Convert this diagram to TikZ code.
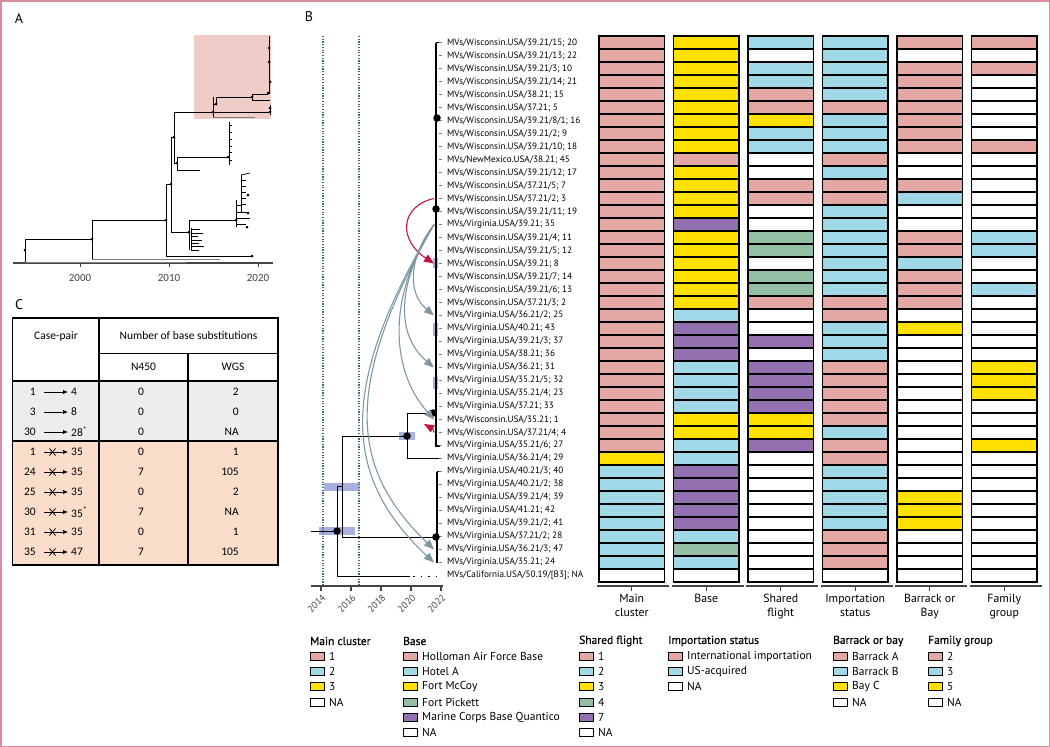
\documentclass[tikz,border=0pt]{standalone}
\usepackage{fontspec}
\setmainfont{PT Sans}
\newfontfamily\calfont{Carlito}
\newfontfamily\headfont[FakeBold=0.5]{PT Sans}
\usetikzlibrary{arrows.meta,calc}
\definecolor{cp}{HTML}{E3A8A3}
\definecolor{cb}{HTML}{A0D8E8}
\definecolor{cy}{HTML}{FFE000}
\definecolor{cg}{HTML}{94BFA5}
\definecolor{cv}{HTML}{9370B0}
\definecolor{cw}{HTML}{FFFFFF}
\definecolor{framec}{HTML}{D98CA0}
\definecolor{hpd}{HTML}{6F7CCB}
\definecolor{arrgrey}{HTML}{7F97A2}
\definecolor{arrred}{HTML}{C0143C}
\definecolor{dotc}{HTML}{3D6B78}
\definecolor{peach}{HTML}{FBDDCB}
\definecolor{lgrey}{HTML}{ECEEED}
\definecolor{hilite}{HTML}{F0CCC8}
\definecolor{axc}{HTML}{444444}
\begin{document}
\begin{tikzpicture}[x=1pt,y=-1pt,
  letter/.style={font=\fontsize{14}{14}\selectfont, inner sep=0},
  tl/.style={line width=0.9pt, black},
  atl/.style={line width=0.7pt, black},
  tipdash/.style={line width=0.6pt, gray},
  tiplab/.style={anchor=west, inner sep=0, font=\fontsize{9.2}{9.5}\selectfont},
  cell/.style={draw=black, line width=1.1pt, minimum width=65.5pt, minimum height=13pt, inner sep=0},
  hpdbar/.style={fill=hpd, fill opacity=0.6},
  gdot/.style={circle, fill=black, inner sep=0, minimum size=#1},
  gdot/.default=7.5pt,
  adot/.style={circle, fill=black, inner sep=0, minimum size=3pt},
  grey arrow/.style={draw=arrgrey, line width=1.1pt, -{Triangle[length=10pt,width=8pt]}},
  red arrow/.style={draw=arrred, line width=1.1pt, -{Triangle[length=10pt,width=8pt]}},
  yearlab/.style={font=\fontsize{9.5}{9.5}\selectfont, text=axc, inner sep=0},
  collab/.style={font=\fontsize{11.8}{13.5}\selectfont, align=center, anchor=north, inner sep=0},
  lghead/.style={font=\headfont\fontsize{11.5}{12}\selectfont, anchor=west, inner sep=0},
  lgtxt/.style={font=\fontsize{11.5}{12}\selectfont, anchor=west, inner sep=0},
  swatch/.style={draw=black, line width=0.9pt, minimum width=14pt, minimum height=8pt, inner sep=0},
  tabtxt/.style={font=\calfont\fontsize{11.5}{12}\selectfont, inner sep=0},
  tabarrow/.style={line width=0.8pt, -{Latex[length=5pt,width=4.5pt]}},
]
\useasboundingbox (0,0) rectangle (1050,747);
\fill[white] (0,0) rectangle (1050,747);
\draw[framec, line width=1.5pt] (0.75,0.75) rectangle (1049.25,746.25);

%% ================= Panel A =================
\node[letter] (labA) at (19,19) {A};
\fill[hilite] (194,35) rectangle (271,119);
\draw[axc, line width=1.1pt] (13,263) -- (273,263);
\foreach \yr/\xx in {2000/80,2010/169,2020/258}{
  \draw[axc, line width=1pt] (\xx,263) -- (\xx,267);
  \node[font=\calfont\fontsize{11}{11}\selectfont, text=axc, inner sep=0] (ay\yr) at (\xx,278) {\yr};
}
\begin{scope}[atl]
\draw (25,239) -- (25,262);
\draw (25,239) -- (92,239);
\draw[gray] (25,262) -- (187,262);
\draw (92,220) -- (92,259);
\draw[gray] (92,259) -- (220,259);
\draw (92,220) -- (166,220);
\draw (166,184) -- (166,256);
\draw (166,256) -- (252,256);
\draw (166,184) -- (171,184);
\draw (171,137) -- (171,232);
\draw (171,232) -- (189,232);
\draw (189,220) -- (189,250);
\draw (189,220) -- (236,220);
\foreach \yy/\xx in {229/200,233/203,236/198,240/202,243/199,246/204,250/199}{\draw (191,\yy) -- (\xx,\yy);}
\draw (191,228) -- (191,251);
\draw (236,200) -- (236,227);
\draw (236,205) -- (242,205);
\draw (236,212) -- (248,212);
\draw (236,218) -- (250,218);
\draw (236,224) -- (246,224);
\draw (241,175) -- (241,212);
\draw (241,175) -- (250,173);
\foreach \yy in {180,186,192,198,204}{\draw (241,\yy) -- (246,\yy);}
\draw (171,137) -- (174,137);
\draw (174,112) -- (174,163);
\draw (174,163) -- (177,163);
\draw (177,157) -- (177,170);
\draw (177,170) -- (200,170);
\draw (177,157) -- (228,157);
\draw (229,122) -- (229,165);
\foreach \yy in {125,132,139,146,152,160}{\draw (229,\yy) -- (232,\yy);}
\draw (174,112) -- (213,112);
\draw (213,97) -- (213,117);
\draw[gray] (213,117) -- (255,117);
\draw (213,112) -- (270,112);
\draw (213,104) -- (216,104);
\draw (216,97) -- (216,104);
\draw (216,97) -- (252,97);
\draw (252,94) -- (252,100);
\draw (252,94) -- (268,94);
\draw (252,100) -- (270,100);
\draw (269,36) -- (269,94);
\draw (270,105) -- (270,115);
\end{scope}
\foreach \p [count=\n] in {(25,250),(92,239),(166,220),(171,184),(252,256),(174,137),(177,163),(228,157),(213,112),(216,104),(252,97),(269,48),(269,62),(270,82),(268,93),(270,108),(270,112),(189,232),(236,220),(248,195),(248,213),(247,227)}{
  \node[adot] (ad\n) at \p {};
}

%% ================= Panel C =================
\node[letter] (labC) at (19,305) {C};
\fill[white] (12.7,318) rectangle (278,381);
\fill[lgrey] (12.7,381) rectangle (278,441);
\fill[peach] (12.7,441) rectangle (278,565);
\draw[line width=1.2pt] (12.7,318) rectangle (278,565);
\draw[line width=1.2pt] (99,318) -- (99,565);
\draw[line width=0.9pt] (99,353) -- (278,353);
\draw[line width=1.2pt] (188,353) -- (188,565);
\draw[line width=1.6pt] (12.7,381) -- (278,381);
\draw[line width=1.6pt] (12.7,441) -- (278,441);
\node[tabtxt] (hcase) at (56,336) {Case-pair};
\node[tabtxt] (hnum) at (188.5,336) {Number of base substitutions};
\node[tabtxt] (hn450) at (143.5,367) {N450};
\node[tabtxt] (hwgs) at (233,367) {WGS};
\foreach \a/\b/\nv/\wv/\cr [count=\i] in {1/4/0/2/0, 3/8/0/0/0, 30/28\textsuperscript{*}/0/NA/0, 1/35/0/1/1, 24/35/7/105/1, 25/35/0/2/1, 30/35\textsuperscript{*}/7/NA/1, 31/35/0/1/1, 35/47/7/105/1}{
  \pgfmathsetmacro{\ry}{372+20*\i}
  \node[tabtxt, anchor=east] (ca\i) at (36,\ry) {\a};
  \node[tabtxt, anchor=west] (cb\i) at (71,\ry) {\b};
  \draw[tabarrow] ([xshift=8pt]ca\i.east) -- ([xshift=-3pt]cb\i.west);
  \ifnum\cr=1
    \draw[line width=0.8pt] (49.5,\ry-3.5) -- (55.5,\ry+3.5);
    \draw[line width=0.8pt] (49.5,\ry+3.5) -- (55.5,\ry-3.5);
  \fi
  \node[tabtxt] (cn\i) at (141,\ry) {\nv};
  \node[tabtxt, anchor=east] (cw\i) at (239,\ry) {\wv};
}

%% ================= Panel B: tree =================
\node[letter] (labB) at (309,17) {B};
\foreach \xx in {323,359}{\draw[dotc, line width=1.1pt, dash pattern=on 1.2pt off 1.5pt] (\xx,36) -- (\xx,586);}
\draw[axc, line width=1.2pt] (311,586) -- (443,586);
\foreach \yr/\xx in {2014/321,2016/351,2018/381,2020/411,2022/441}{
  \draw[axc, line width=1.1pt] (\xx,586) -- (\xx,591);
  \node[yearlab, rotate=45, anchor=east] (ty\yr) at (\xx+3,596) {\yr};
}
% HPD bars
\fill[hpdbar] (319,527) rectangle (355,535);
\fill[hpdbar] (324,483) rectangle (360,491);
\fill[hpdbar] (399,432) rectangle (415,440);
\fill[hpdbar] (433,323) rectangle (437.5,336);
\fill[hpdbar] (433,377) rectangle (437.5,389);
\fill[hpdbar] (433,258) rectangle (437.5,268);
% branches
\draw[tl] (311,531) -- (337,531);
\draw[tl] (337,486) -- (337,576);
\draw[tl] (337,486) -- (342,486);
\draw[tl] (342,436) -- (342,537);
\draw[tl] (342,436) -- (407,436);
\draw[tl] (342,537) -- (436,537);
\draw[tl] (337,576) -- (410,576);
\draw[black, line width=0.9pt, dash pattern=on 1.5pt off 6pt] (413,576) -- (440,576);
\draw[tl] (407,413) -- (407,458.5);
\draw[tl] (407,413) -- (433,413);
\draw[tl] (407,458.5) -- (440,458.5);
\draw[black, line width=1.3pt] (436,42.5) -- (436,212);
\draw[black, line width=2pt] (435.5,212) -- (435.5,445.5) -- (440,445.5);
\draw[black, line width=1.3pt] (437,471.5) -- (437,562.5);
\draw[black, line width=1pt] (437,471.5) -- (441,471.5);
\draw[black, line width=1pt] (436,42.5) -- (440,42.5);
\foreach \i in {1,...,41}{
  \coordinate (tp\i) at (434,{29.5+13*\i});
  \draw[tipdash] (438.5,{29.5+13*\i}) -- (442,{29.5+13*\i});
}
\node[gdot] (nd1) at (437,118) {};
\node[gdot] (nd2) at (436,209) {};
\node[gdot] (ndN4) at (433,413) {};
\node[gdot] (ndN2) at (407,436) {};
\node[gdot] (ndN3) at (436,537) {};
\node[gdot] (ndR) at (337,531) {};
% tip labels
\foreach \lab [count=\i] in {MVs/Wisconsin.USA/39.21/15; 20, MVs/Wisconsin.USA/39.21/13; 22, MVs/Wisconsin.USA/39.21/3; 10, MVs/Wisconsin.USA/39.21/14; 21, MVs/Wisconsin.USA/38.21; 15, MVs/Wisconsin.USA/37.21; 5, MVs/Wisconsin.USA/39.21/8/1; 16, MVs/Wisconsin.USA/39.21/2; 9, MVs/Wisconsin.USA/39.21/10; 18, MVs/NewMexico.USA/38.21; 45, MVs/Wisconsin.USA/39.21/12; 17, MVs/Wisconsin.USA/37.21/5; 7, MVs/Wisconsin.USA/37.21/2; 3, MVs/Wisconsin.USA/39.21/11; 19, MVs/Virginia.USA/39.21; 35, MVs/Wisconsin.USA/39.21/4; 11, MVs/Wisconsin.USA/39.21/5; 12, MVs/Wisconsin.USA/39.21; 8, MVs/Wisconsin.USA/39.21/7; 14, MVs/Wisconsin.USA/39.21/6; 13, MVs/Wisconsin.USA/37.21/3; 2, MVs/Virginia.USA/36.21/2; 25, MVs/Virginia.USA/40.21; 43, MVs/Virginia.USA/39.21/3; 37, MVs/Virginia.USA/38.21; 36, MVs/Virginia.USA/36.21; 31, MVs/Virginia.USA/35.21/5; 32, MVs/Virginia.USA/35.21/4; 23, MVs/Virginia.USA/37.21; 33, MVs/Wisconsin.USA/35.21; 1, MVs/Wisconsin.USA/37.21/4; 4, MVs/Virginia.USA/35.21/6; 27, MVs/Virginia.USA/36.21/4; 29, MVs/Virginia.USA/40.21/3; 40, MVs/Virginia.USA/40.21/2; 38, MVs/Virginia.USA/39.21/4; 39, MVs/Virginia.USA/41.21; 42, MVs/Virginia.USA/39.21/2; 41, MVs/Virginia.USA/37.21/2; 28, MVs/Virginia.USA/36.21/3; 47, MVs/Virginia.USA/35.21; 24, MVs/California.USA/50.19/[B3]; NA}{
  \node[tiplab] (lab\i) at (447,{29.5+13*\i}) {\lab};
}
% transmission arrows
\draw[red arrow] (tp13) .. controls (400,206) and (398,240) .. (tp18);
\draw[red arrow] (tp31) .. controls (433,429) .. (424,424);
\draw[grey arrow] (tp15) .. controls (410,255) and (406,292) .. (tp22);
\draw[grey arrow] (tp15) .. controls (396,285) and (396,335) .. (tp26);
\draw[grey arrow] (tp15) .. controls (385,300) and (392,372) .. (tp30);
\draw[grey arrow] (tp15) .. controls (340,390) and (352,470) .. (tp40);
\draw[grey arrow] (tp15) .. controls (334,392) and (346,480) .. (tp41);

%% ================= Heatmap =================
\foreach \colvals [count=\k from 0] in {
 {p,p,p,p,p,p,p,p,p,p,p,p,p,p,p,p,p,p,p,p,p,p,p,p,p,p,p,p,p,p,p,p,y,b,b,b,b,b,b,b,b,w},
 {y,y,y,y,y,y,y,y,y,p,y,y,y,y,v,y,y,y,y,y,y,b,v,v,v,b,b,b,b,y,y,b,b,v,v,v,v,v,b,g,b,w},
 {b,w,b,b,p,p,y,b,b,w,w,p,p,w,w,g,g,w,g,g,p,w,w,v,w,v,v,v,v,y,y,v,w,w,w,w,w,w,w,w,w,w},
 {b,b,b,b,b,p,b,b,b,p,b,p,p,b,b,b,b,b,b,b,p,p,b,b,b,p,p,p,p,p,b,p,p,b,b,b,b,b,p,p,p,w},
 {p,w,p,p,p,p,p,p,p,w,w,p,b,w,w,p,p,b,p,p,p,w,y,w,w,w,w,w,w,w,w,w,w,w,w,y,y,y,w,w,w,w},
 {p,w,p,w,w,w,w,w,p,w,w,w,w,w,w,b,b,w,w,b,w,w,w,w,w,y,y,y,w,w,w,y,w,w,w,w,w,w,w,w,w,w}}{
  \foreach \c [count=\i] in \colvals {
    \node[cell, fill=c\c] (h\k-\i) at ({631.75+74.5*\k},{29.5+13*\i}) {};
  }
}
\foreach \t [count=\k from 0] in {Main\\cluster, Base, Shared\\flight, Importation\\status, Barrack or\\Bay, Family\\group}{
  \draw[axc, line width=1.4pt] ({597+74.5*\k},586) -- ({669+74.5*\k},586);
  \draw[axc, line width=1.2pt] ({631.75+74.5*\k},586) -- ({631.75+74.5*\k},591);
  \node[collab] (cl\k) at ({631.75+74.5*\k},594) {\t};
}

%% ================= Legend =================
\node[lghead] (lgh1) at (310,641) {Main cluster};
\foreach \c/\t [count=\j] in {p/1,b/2,y/3,w/NA}{
  \node[swatch, fill=c\c] (lg1s\j) at (317,{641+15.3*\j}) {};
  \node[lgtxt] (lg1t\j) at (329,{641+15.3*\j}) {\t};
}
\node[lghead] (lgh2) at (403,641) {Base};
\foreach \c/\t [count=\j] in {p/Holloman Air Force Base,b/Hotel A,y/Fort McCoy,g/Fort Pickett,v/Marine Corps Base Quantico,w/NA}{
  \node[swatch, fill=c\c] (lg2s\j) at (410,{641+15.3*\j}) {};
  \node[lgtxt] (lg2t\j) at (422,{641+15.3*\j}) {\t};
}
\node[lghead] (lgh3) at (579,641) {Shared flight};
\foreach \c/\t [count=\j] in {p/1,b/2,y/3,g/4,v/7,w/NA}{
  \node[swatch, fill=c\c] (lg3s\j) at (586,{641+15.3*\j}) {};
  \node[lgtxt] (lg3t\j) at (598,{641+15.3*\j}) {\t};
}
\node[lghead] (lgh4) at (668,641) {Importation status};
\foreach \c/\t [count=\j] in {p/International importation,b/US-acquired,w/NA}{
  \node[swatch, fill=c\c] (lg4s\j) at (675,{641+15.3*\j}) {};
  \node[lgtxt] (lg4t\j) at (687,{641+15.3*\j}) {\t};
}
\node[lghead] (lgh5) at (833,641) {Barrack or bay};
\foreach \c/\t [count=\j] in {p/Barrack A,b/Barrack B,y/Bay C,w/NA}{
  \node[swatch, fill=c\c] (lg5s\j) at (840,{641+15.3*\j}) {};
  \node[lgtxt] (lg5t\j) at (852,{641+15.3*\j}) {\t};
}
\node[lghead] (lgh6) at (928,641) {Family group};
\foreach \c/\t [count=\j] in {p/2,b/3,y/5,w/NA}{
  \node[swatch, fill=c\c] (lg6s\j) at (935,{641+15.3*\j}) {};
  \node[lgtxt] (lg6t\j) at (947,{641+15.3*\j}) {\t};
}
\end{tikzpicture}
\end{document}
